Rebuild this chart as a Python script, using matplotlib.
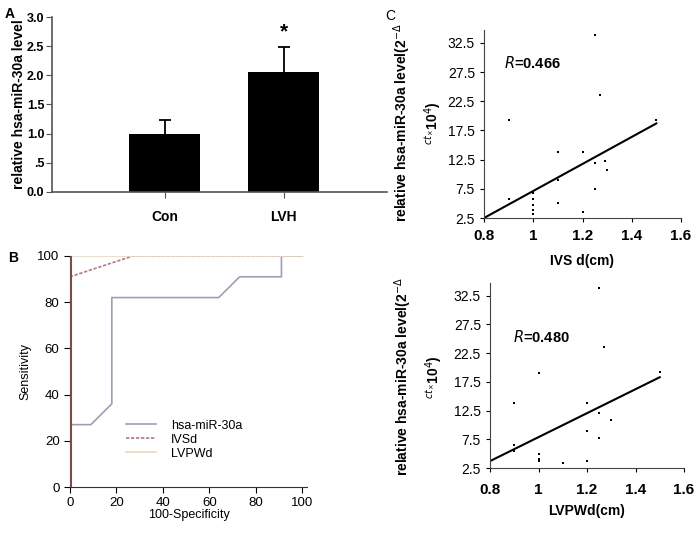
import matplotlib.pyplot as plt
from matplotlib.ticker import FuncFormatter

# panel A - bar chart
groups = ['Con', 'LVH']
mean_level = [1.0, 2.05]
err_level = [0.23, 0.43]

# panel B - ROC curves (100-specificity, sensitivity)
mir_x = [0, 0, 9, 18, 18, 64, 73, 91, 91, 100]
mir_y = [0, 27, 27, 36, 82, 82, 91, 91, 100, 100]
ivsd_x = [0, 0, 27, 100]
ivsd_y = [0, 91, 100, 100]
lvpwd_x = [0, 0, 100]
lvpwd_y = [0, 100, 100]

# panel C - IVSd scatter
ivsd_pts_x = [0.9, 0.9, 1.0, 1.0, 1.0, 1.0, 1.0, 1.1, 1.1, 1.1, 1.2, 1.2,
              1.25, 1.25, 1.25, 1.27, 1.29, 1.3, 1.5]
ivsd_pts_y = [19.2, 5.7, 6.8, 5.8, 4.8, 3.9, 3.2, 13.8, 9.0, 5.0, 13.8, 3.5,
              33.8, 12.0, 7.5, 23.5, 12.3, 10.8, 19.2]
ivsd_fit_x = [0.8, 1.5]
ivsd_fit_y = [2.5, 18.7]

# panel C - LVPWd scatter
lvpw_pts_x = [0.9, 0.9, 0.9, 1.0, 1.0, 1.0, 1.0, 1.1, 1.2, 1.2, 1.2,
              1.25, 1.25, 1.25, 1.27, 1.3, 1.5]
lvpw_pts_y = [13.8, 6.5, 5.5, 19.0, 5.0, 4.0, 3.7, 3.4, 13.8, 9.0, 3.8,
              33.8, 12.0, 7.8, 23.5, 10.8, 19.2]
lvpw_fit_x = [0.8, 1.5]
lvpw_fit_y = [3.7, 18.3]

sc_yticks = [2.5, 7.5, 12.5, 17.5, 22.5, 27.5, 32.5]
sc_xticks = [0.8, 1.0, 1.2, 1.4, 1.6]

plt.rcParams['font.family'] = ['Liberation Sans', 'DejaVu Sans']

fig = plt.figure(figsize=(6.97, 5.33), dpi=100)
W, H = 697.0, 533.0


def box(x0, y0, x1, y1):
    # pixel box -> figure fraction rect
    return [x0 / W, 1 - y1 / H, (x1 - x0) / W, (y1 - y0) / H]


# ---- A ----
axA = fig.add_axes(box(52, 17, 387, 192))
xs = [1, 2]
axA.bar(xs, mean_level, width=0.6, color='black', zorder=2)
for x, m, e in zip(xs, mean_level, err_level):
    axA.vlines(x, m, m + e, color='black', lw=1.3)
    axA.hlines(m + e, x - 0.05, x + 0.05, color='black', lw=1.3)
axA.text(2, 2.58, '*', ha='center', va='bottom', fontsize=15, fontweight='bold')
axA.set_xlim(0.05, 2.87)
axA.set_ylim(0, 3.0)
axA.set_xticks(xs)
axA.set_xticklabels(groups, fontsize=10, fontweight='bold')
axA.set_yticks([0, 0.5, 1.0, 1.5, 2.0, 2.5, 3.0])
axA.set_yticklabels(['0.0', '.5', '1.0', '1.5', '2.0', '2.5', '3.0'],
                    fontsize=9, fontweight='bold')
axA.set_ylabel('relative hsa-miR-30a level', fontsize=10, fontweight='bold')
axA.yaxis.set_label_coords(-0.078, 0.5)
for s in ['top', 'right']:
    axA.spines[s].set_visible(False)
for s in ['left', 'bottom']:
    axA.spines[s].set_color('#555555')
    axA.spines[s].set_linewidth(1.2)
axA.tick_params(colors='#555555', labelcolor='black', length=4, pad=9)
axA.tick_params(axis='y', pad=1.5)

# ---- B ----
axB = fig.add_axes(box(70, 256, 307, 487))
axB.plot(mir_x, mir_y, color='#a19db6', lw=1.2, label='hsa-miR-30a')
axB.plot(ivsd_x, ivsd_y, color='#b37a80', lw=1.2, ls=(0, (2, 1)), label='IVSd')
axB.plot(lvpwd_x, lvpwd_y, color='#ecd9b2', lw=1.2, label='LVPWd')
axB.axvline(0, color='#7a4e48', lw=2.2, zorder=3)
axB.set_xlim(0, 102)
axB.set_ylim(0, 100)
axB.set_xticks([0, 20, 40, 60, 80, 100])
axB.set_yticks([0, 20, 40, 60, 80, 100])
axB.tick_params(labelsize=9.5, length=4)
axB.set_xlabel('100-Specificity', fontsize=9, labelpad=0)
axB.set_ylabel('Sensitivity', fontsize=9, labelpad=4)
for s in ['top', 'right']:
    axB.spines[s].set_visible(False)
axB.spines['bottom'].set_color('#333333')
axB.spines['left'].set_color('#333333')
axB.legend(loc='lower left', bbox_to_anchor=(0.19, 0.07), frameon=False,
           fontsize=9, handlelength=2.4, labelspacing=0.15, handletextpad=1.2)


def scatter_panel(rect, px, py, fx, fy, xlabel, rtext, rpos, xpad, lpad):
    ax = fig.add_axes(rect)
    ax.scatter(px, py, s=3, color='black', marker='s', linewidths=0)
    ax.plot(fx, fy, color='black', lw=1.5)
    ax.set_xlim(0.8, 1.6)
    ax.set_ylim(2.5, 34.7)
    ax.set_xticks(sc_xticks)
    ax.set_yticks(sc_yticks)
    ax.xaxis.set_major_formatter(FuncFormatter(lambda v, p: '%g' % v))
    ax.yaxis.set_major_formatter(FuncFormatter(lambda v, p: '%.1f' % v))
    for s in ['top', 'right']:
        ax.spines[s].set_visible(False)
    for s in ['left', 'bottom']:
        ax.spines[s].set_color('#444444')
    ax.tick_params(axis='x', labelsize=11, length=3, pad=xpad)
    ax.tick_params(axis='y', labelsize=10, length=3)
    for lab in ax.get_xticklabels():
        lab.set_fontweight('bold')
    ax.set_xlabel(xlabel, fontsize=10, fontweight='bold', labelpad=lpad)
    ax.text(rpos[0], rpos[1], '$\\it{R}$=' + rtext, transform=ax.transAxes,
            fontsize=10.5, fontweight='bold')
    return ax


axC1 = scatter_panel(box(484, 30, 681, 218), ivsd_pts_x, ivsd_pts_y,
                     ivsd_fit_x, ivsd_fit_y, 'IVS d(cm)', '0.466', (0.1, 0.8),
                     5, 8)
axC2 = scatter_panel(box(490, 283, 684, 468), lvpw_pts_x, lvpw_pts_y,
                     lvpw_fit_x, lvpw_fit_y, 'LVPWd(cm)', '0.480', (0.12, 0.68),
                     8, 5)

ylab = 'relative hsa-miR-30a level(2$^{-\\Delta}$\n$^{ct_{\\times}}$10$^{4}$)'
fig.text(418 / W, 1 - 123 / H, ylab, rotation=90, ha='center', va='center',
         fontsize=10, fontweight='bold', linespacing=1.6)
fig.text(419 / W, 1 - 377 / H, ylab, rotation=90, ha='center', va='center',
         fontsize=10, fontweight='bold', linespacing=1.6)

# panel letters
fig.text(5 / W, 1 - 14 / H, 'A', fontsize=10, fontweight='bold', va='center')
fig.text(8 / W, 1 - 258 / H, 'B', fontsize=10, fontweight='bold', va='center')
fig.text(385 / W, 1 - 16 / H, 'C', fontsize=10, va='center')

plt.savefig('out.png', dpi=100)
